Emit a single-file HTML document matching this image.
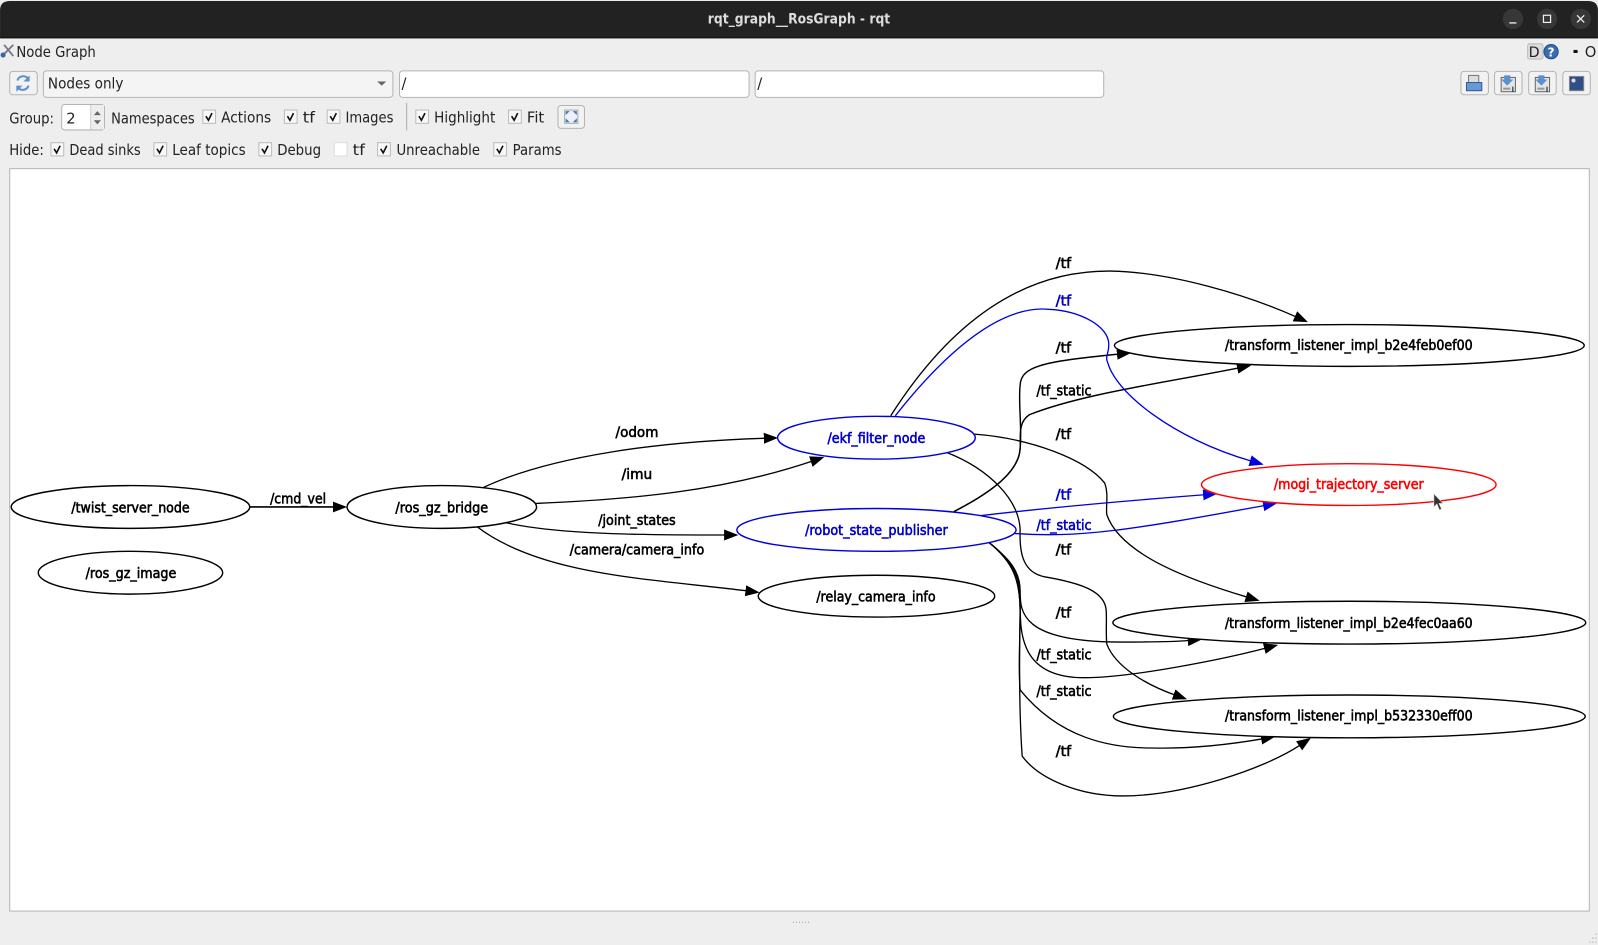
<!DOCTYPE html>
<html><head><meta charset="utf-8"><title>rqt_graph__RosGraph - rqt</title>
<style>
html,body{margin:0;padding:0;background:#eee;overflow:hidden}
svg{display:block}
.u{font:14.5px "DejaVu Sans","Liberation Sans",sans-serif;fill:#222}
.g{font:14px "DejaVu Sans","Liberation Sans",sans-serif;fill:#000;stroke:#000;stroke-width:.6;text-anchor:middle}
.b{fill:#00c;stroke:#00c}
.r{fill:#f00;stroke:#f00}
.n{fill:#fff;stroke:#000;stroke-width:1.4}
.e{fill:none;stroke:#000;stroke-width:1.3}
.be{fill:none;stroke:#00d;stroke-width:1.3}
.btn{fill:#f2f2f2;stroke:#b4b4b4;stroke-width:1}
.cb{fill:#f8f8f8;stroke:#bbb;stroke-width:1}
.ck{fill:none;stroke:#111;stroke-width:1.6}
</style></head><body>
<svg width="1598" height="945" viewBox="0 0 1568 927.3" xmlns="http://www.w3.org/2000/svg">
<defs>
<marker id="a" markerUnits="userSpaceOnUse" markerWidth="15" markerHeight="12" refX="1.5" refY="6" orient="auto"><path d="M0 .6L14 6L0 11.4Z" fill="#000"/></marker>
<marker id="ab" markerUnits="userSpaceOnUse" markerWidth="15" markerHeight="12" refX="1.5" refY="6" orient="auto"><path d="M0 .6L14 6L0 11.4Z" fill="#00d"/></marker>
</defs>
<rect width="1568" height="928" fill="#eee"/>
<path d="M0 37V10Q0 1 10 1H1558Q1568 1 1568 10V37Z" fill="#222"/><rect y="36.5" width="1568" height="1.2" fill="#111"/>
<text x="784" y="23" text-anchor="middle" textLength="179" lengthAdjust="spacingAndGlyphs" style="font:bold 13.5px 'DejaVu Sans',sans-serif;fill:#ddd">rqt_graph__RosGraph - rqt</text>
<circle cx="1484.6" cy="18.6" r="10" fill="#373737"/><circle cx="1518" cy="18.6" r="10" fill="#373737"/><circle cx="1551.2" cy="18.6" r="10" fill="#373737"/>
<path d="M1481 22.5h7" stroke="#eee" stroke-width="1.3"/><rect x="1514.5" y="15" width="7" height="7" fill="none" stroke="#eee" stroke-width="1.2"/><path d="M1547.5 15l7 7m0-7l-7 7" stroke="#eee" stroke-width="1.3"/>

<path d="M2 55l11-11m-9 0l9 11" stroke="#778" stroke-width="1.8"/><circle cx="3" cy="54" r="2.5" fill="#3a66a8"/>
<text class="u" x="16" y="56" textLength="78" lengthAdjust="spacingAndGlyphs">Node Graph</text>
<rect x="1499" y="43" width="15" height="15" rx="2" fill="#ddd" stroke="#bbb"/><text class="u" x="1500" y="56" style="font-size:14px">D</text>
<circle cx="1522" cy="50.7" r="7" fill="#3a6cb0" stroke="#1f4d90"/><text x="1522" y="55.5" text-anchor="middle" style="font:bold 12px 'DejaVu Sans',sans-serif;fill:#fff">?</text>
<rect x="1544" y="49" width="4" height="3" fill="#111"/><text class="u" x="1555" y="56">O</text>

<rect class="btn" x="9.5" y="70" width="27" height="23" rx="3"/>
<path d="M17 79a6 6 0 0 1 11-1M28 84a6 6 0 0 1-11 1" fill="none" stroke="#5a8fd0" stroke-width="2"/><path d="M29 74v6h-6zM16 90v-6h6z" fill="#5a8fd0"/>
<rect x="42.5" y="69.5" width="343" height="26" rx="3" fill="#f4f4f4" stroke="#b4b4b4"/>
<text class="u" x="47" y="87" textLength="74" lengthAdjust="spacingAndGlyphs">Nodes only</text>
<path d="M370 80h9l-4.500 4z" fill="#666"/>
<rect x="392" y="69.5" width="343" height="26" rx="3" fill="#fff" stroke="#b4b4b4"/><text class="u" x="394" y="87">/</text>
<rect x="741" y="69.5" width="342" height="26" rx="3" fill="#fff" stroke="#b4b4b4"/><text class="u" x="743" y="87">/</text>

<rect class="btn" x="1433.500" y="70" width="27" height="23" rx="3"/><rect x="1441" y="74" width="10" height="8" fill="#ddd" stroke="#777"/><rect x="1439" y="81" width="15" height="8" fill="#6a98d2" stroke="#2d5a9c"/>
<rect class="btn" x="1466.500" y="70" width="27" height="23" rx="3"/><rect x="1473" y="76" width="14" height="14" fill="#e4e4e4" stroke="#666"/><path d="M1476 74h6v4h3l-6 6l-6-6h3z" fill="#5a90cc"/><path d="M1475 87h7" stroke="#999" stroke-width="2"/><path d="M1484.500 85v5" stroke="#111"/>
<rect class="btn" x="1500" y="70" width="27" height="23" rx="3"/><rect x="1506.500" y="76" width="14" height="14" fill="#e4e4e4" stroke="#666"/><path d="M1509.500 74h6v4h3l-6 6l-6-6h3z" fill="#5a90cc"/><path d="M1508.500 87h7" stroke="#999" stroke-width="2"/><path d="M1518 85v5" stroke="#111"/>
<rect class="btn" x="1533.500" y="70" width="27" height="23" rx="3"/><rect x="1540" y="75" width="14" height="14" fill="#2f4f88" stroke="#888"/><circle cx="1544" cy="79" r="2" fill="#dde"/>

<text class="u" x="9" y="121" textLength="44" lengthAdjust="spacingAndGlyphs">Group:</text>
<rect x="60.500" y="102.500" width="42" height="25" rx="3" fill="#fff" stroke="#b4b4b4"/><rect x="89" y="103" width="13" height="24" fill="#eee"/><path d="M89 103v24" stroke="#ccc"/>
<text class="u" x="65" y="121">2</text><path d="M92 113l3.500-4l3.500 4zM92 118l3.500 4l3.500-4z" fill="#666"/>
<text class="u" x="109" y="121" textLength="82" lengthAdjust="spacingAndGlyphs">Namespaces</text>
<g id="row2">
<rect class="cb" x="199" y="108" width="12.500" height="13"/><path class="ck" d="M202 114l2.500 4l3.500-7"/><text class="u" x="217" y="120" textLength="49" lengthAdjust="spacingAndGlyphs">Actions</text>
<rect class="cb" x="279" y="108" width="12.500" height="13"/><path class="ck" d="M282 114l2.500 4l3.500-7"/><text class="u" x="297" y="120" textLength="12" lengthAdjust="spacingAndGlyphs">tf</text>
<rect class="cb" x="321" y="108" width="12.500" height="13"/><path class="ck" d="M324 114l2.500 4l3.500-7"/><text class="u" x="339" y="120" textLength="47" lengthAdjust="spacingAndGlyphs">Images</text>
<path d="M399 101v27" stroke="#aaa"/>
<rect class="cb" x="408" y="108" width="12.500" height="13"/><path class="ck" d="M411 114l2.500 4l3.500-7"/><text class="u" x="426" y="120" textLength="60" lengthAdjust="spacingAndGlyphs">Highlight</text>
<rect class="cb" x="499" y="108" width="12.500" height="13"/><path class="ck" d="M502 114l2.500 4l3.500-7"/><text class="u" x="517" y="120" textLength="17" lengthAdjust="spacingAndGlyphs">Fit</text>
<rect class="btn" x="547.500" y="103.500" width="26" height="22.500" rx="3"/><rect x="554" y="108" width="13" height="13" fill="#eef2f8" stroke="#aaa"/><path d="M555 109h4l-4 4zM566 109v4l-4-4zM555 120v-4l4 4zM566 120h-4l4-4z" fill="#3c78c0"/>
</g>
<text class="u" x="9" y="152" textLength="34" lengthAdjust="spacingAndGlyphs">Hide:</text>
<rect class="cb" x="50" y="140" width="12.500" height="13"/><path class="ck" d="M53 146l2.500 4l3.500-7"/><text class="u" x="68" y="152" textLength="70" lengthAdjust="spacingAndGlyphs">Dead sinks</text>
<rect class="cb" x="151" y="140" width="12.500" height="13"/><path class="ck" d="M154 146l2.500 4l3.500-7"/><text class="u" x="169" y="152" textLength="72" lengthAdjust="spacingAndGlyphs">Leaf topics</text>
<rect class="cb" x="254" y="140" width="12.500" height="13"/><path class="ck" d="M257 146l2.500 4l3.500-7"/><text class="u" x="272" y="152" textLength="43" lengthAdjust="spacingAndGlyphs">Debug</text>
<rect class="cb" x="328" y="140" width="12.500" height="13" style="fill:#fff;stroke:#ddd"/><text class="u" x="346" y="152" textLength="12" lengthAdjust="spacingAndGlyphs">tf</text>
<rect class="cb" x="370.500" y="140" width="12.500" height="13"/><path class="ck" d="M373.500 146l2.500 4l3.500-7"/><text class="u" x="389" y="152" textLength="82" lengthAdjust="spacingAndGlyphs">Unreachable</text>
<rect class="cb" x="484.500" y="140" width="12.500" height="13"/><path class="ck" d="M487.500 146l2.500 4l3.500-7"/><text class="u" x="503" y="152" textLength="48" lengthAdjust="spacingAndGlyphs">Params</text>

<rect x="9.500" y="165.500" width="1550" height="728.500" fill="#fff" stroke="#b5b5b5"/>

<!-- edges -->
<g class="e">
<path d="M245 497.500H328" marker-end="url(#a)" stroke-width="1.600"/>
<path d="M473 479C540 447 650 433 751 430" marker-end="url(#a)"/>
<path d="M526 494C620 490 710 482 797 452.500" marker-end="url(#a)"/>
<path d="M497 513C550 525 640 525 712 525" marker-end="url(#a)"/>
<path d="M467 516C530 565 640 568 733 579.800" marker-end="url(#a)"/>
<path d="M874 408C930 320 1000 265 1090 266C1150 267 1225 290 1272 311" marker-end="url(#a)"/>
<path d="M936 502C975 482 1000 462 1001 440C1003 420 999 395 1001 378C1002 360 1020 355 1097.500 347.500" marker-end="url(#a)" stroke-width="1.400"/>
<path d="M936 502C975 482 1000 462 1001 440C1002 430 998 415 1010 407C1060 387 1140 376 1215.500 361" marker-end="url(#a)" stroke-width="1.400"/>
<path d="M956 426C1010 430 1065 450 1084 474C1088 485 1085 495 1086 505C1100 545 1170 570 1224 586" marker-end="url(#a)"/>
<path d="M929 444C970 460 1000 490 1001 520C1000 545 1005 562 1025 566C1060 572 1085 580 1085.500 600C1086 612 1085 620 1086 632C1095 655 1125 672 1153 682" marker-end="url(#a)"/>
<path d="M970 532C990 548 1001 560 1001 580C1001 600 1001 630 1100 630C1122 630 1150 630 1167 628.500" marker-end="url(#a)"/>
<path d="M970 532C995 552 1001 565 1001 590C1001 620 1000 665 1064 665C1110 665 1200 647 1242 636" marker-end="url(#a)"/>
<path d="M970 532C995 552 1001 570 1001 600C1001 630 999 655 1001 677C1040 725 1090 734 1130 734C1170 735 1210 730 1239 725" marker-end="url(#a)"/>
<path d="M970 532C995 552 1001 570 1001 600C1000 650 1000 700 1003 742C1020 765 1060 781 1102 781C1160 781 1240 755 1276 731" marker-end="url(#a)"/>
</g>
<g class="be">
<path d="M878.500 408C940 330 990 300 1029 303.500C1060 305 1088 320 1088 338C1088 348 1084 350 1087 356C1095 385 1150 430 1228 452.500" marker-end="url(#ab)"/>
<path d="M962 506C1030 498 1110 491 1182 485.500" marker-end="url(#ab)"/>
<path d="M995.500 523.500C1060 528 1110 520 1241 496" marker-end="url(#ab)"/>
</g>

<!-- nodes -->
<g>
<ellipse class="n" cx="128" cy="497.500" rx="117" ry="21"/>
<ellipse class="n" cx="433.500" cy="497.500" rx="93" ry="21"/>
<ellipse class="n" cx="128" cy="562" rx="90.500" ry="21"/>
<ellipse class="n" cx="860" cy="429.500" rx="97" ry="21" style="stroke:#00d"/>
<ellipse class="n" cx="860" cy="520" rx="137" ry="21" style="stroke:#00d"/>
<ellipse class="n" cx="860" cy="585" rx="116" ry="20.500"/>
<ellipse class="n" cx="1324" cy="339" rx="230.500" ry="20.500"/>
<ellipse class="n" cx="1323.500" cy="475.500" rx="144.500" ry="20.500" style="stroke:#f00"/>
<ellipse class="n" cx="1324" cy="611" rx="232" ry="21"/>
<ellipse class="n" cx="1324" cy="703" rx="231.500" ry="21"/>
</g>
<g>
<text class="g" x="128" y="503" textLength="116" lengthAdjust="spacingAndGlyphs">/twist_server_node</text>
<text class="g" x="433.500" y="503" textLength="91" lengthAdjust="spacingAndGlyphs">/ros_gz_bridge</text>
<text class="g" x="128.500" y="567" textLength="89" lengthAdjust="spacingAndGlyphs">/ros_gz_image</text>
<text class="g b" x="860" y="434.500" textLength="96" lengthAdjust="spacingAndGlyphs">/ekf_filter_node</text>
<text class="g b" x="860" y="525" textLength="140" lengthAdjust="spacingAndGlyphs">/robot_state_publisher</text>
<text class="g" x="859.500" y="590" textLength="117" lengthAdjust="spacingAndGlyphs">/relay_camera_info</text>
<text class="g" x="1323.500" y="343.500" textLength="243" lengthAdjust="spacingAndGlyphs">/transform_listener_impl_b2e4feb0ef00</text>
<text class="g r" x="1323.500" y="480" textLength="147" lengthAdjust="spacingAndGlyphs">/mogi_trajectory_server</text>
<text class="g" x="1323.500" y="616" textLength="243" lengthAdjust="spacingAndGlyphs">/transform_listener_impl_b2e4fec0aa60</text>
<text class="g" x="1323.500" y="707" textLength="243" lengthAdjust="spacingAndGlyphs">/transform_listener_impl_b532330eff00</text>

<text class="g" x="292.500" y="494" textLength="55" lengthAdjust="spacingAndGlyphs">/cmd_vel</text>
<text class="g" x="625" y="429" textLength="42" lengthAdjust="spacingAndGlyphs">/odom</text>
<text class="g" x="625" y="470" textLength="30" lengthAdjust="spacingAndGlyphs">/imu</text>
<text class="g" x="625" y="515" textLength="76" lengthAdjust="spacingAndGlyphs">/joint_states</text>
<text class="g" x="625" y="544" textLength="132" lengthAdjust="spacingAndGlyphs">/camera/camera_info</text>
<text class="g" x="1043.500" y="263" textLength="15" lengthAdjust="spacingAndGlyphs">/tf</text>
<text class="g b" x="1043.500" y="300" textLength="15" lengthAdjust="spacingAndGlyphs">/tf</text>
<text class="g" x="1043.500" y="346" textLength="15" lengthAdjust="spacingAndGlyphs">/tf</text>
<text class="g" x="1044" y="388" textLength="54" lengthAdjust="spacingAndGlyphs">/tf_static</text>
<text class="g" x="1043.500" y="431" textLength="15" lengthAdjust="spacingAndGlyphs">/tf</text>
<text class="g b" x="1043.500" y="490" textLength="15" lengthAdjust="spacingAndGlyphs">/tf</text>
<text class="g b" x="1044" y="520" textLength="54" lengthAdjust="spacingAndGlyphs">/tf_static</text>
<text class="g" x="1043.500" y="544" textLength="15" lengthAdjust="spacingAndGlyphs">/tf</text>
<text class="g" x="1043.500" y="606" textLength="15" lengthAdjust="spacingAndGlyphs">/tf</text>
<text class="g" x="1044" y="647" textLength="54" lengthAdjust="spacingAndGlyphs">/tf_static</text>
<text class="g" x="1044" y="683" textLength="54" lengthAdjust="spacingAndGlyphs">/tf_static</text>
<text class="g" x="1043.500" y="742" textLength="15" lengthAdjust="spacingAndGlyphs">/tf</text>
</g>
<path d="M1407 484.500v13l3-3l2.500 6l2-1l-2.500-5.500h4z" fill="#333" stroke="#ddd" stroke-width=".6"/>
<path d="M778 905h17" stroke="#999" stroke-dasharray="1 2"/>
<path d="M1566 916v1M1563 920v1M1566 920v1M1560 924v1M1563 924v1M1566 924v1" stroke="#999"/>
</svg>
</body></html>
